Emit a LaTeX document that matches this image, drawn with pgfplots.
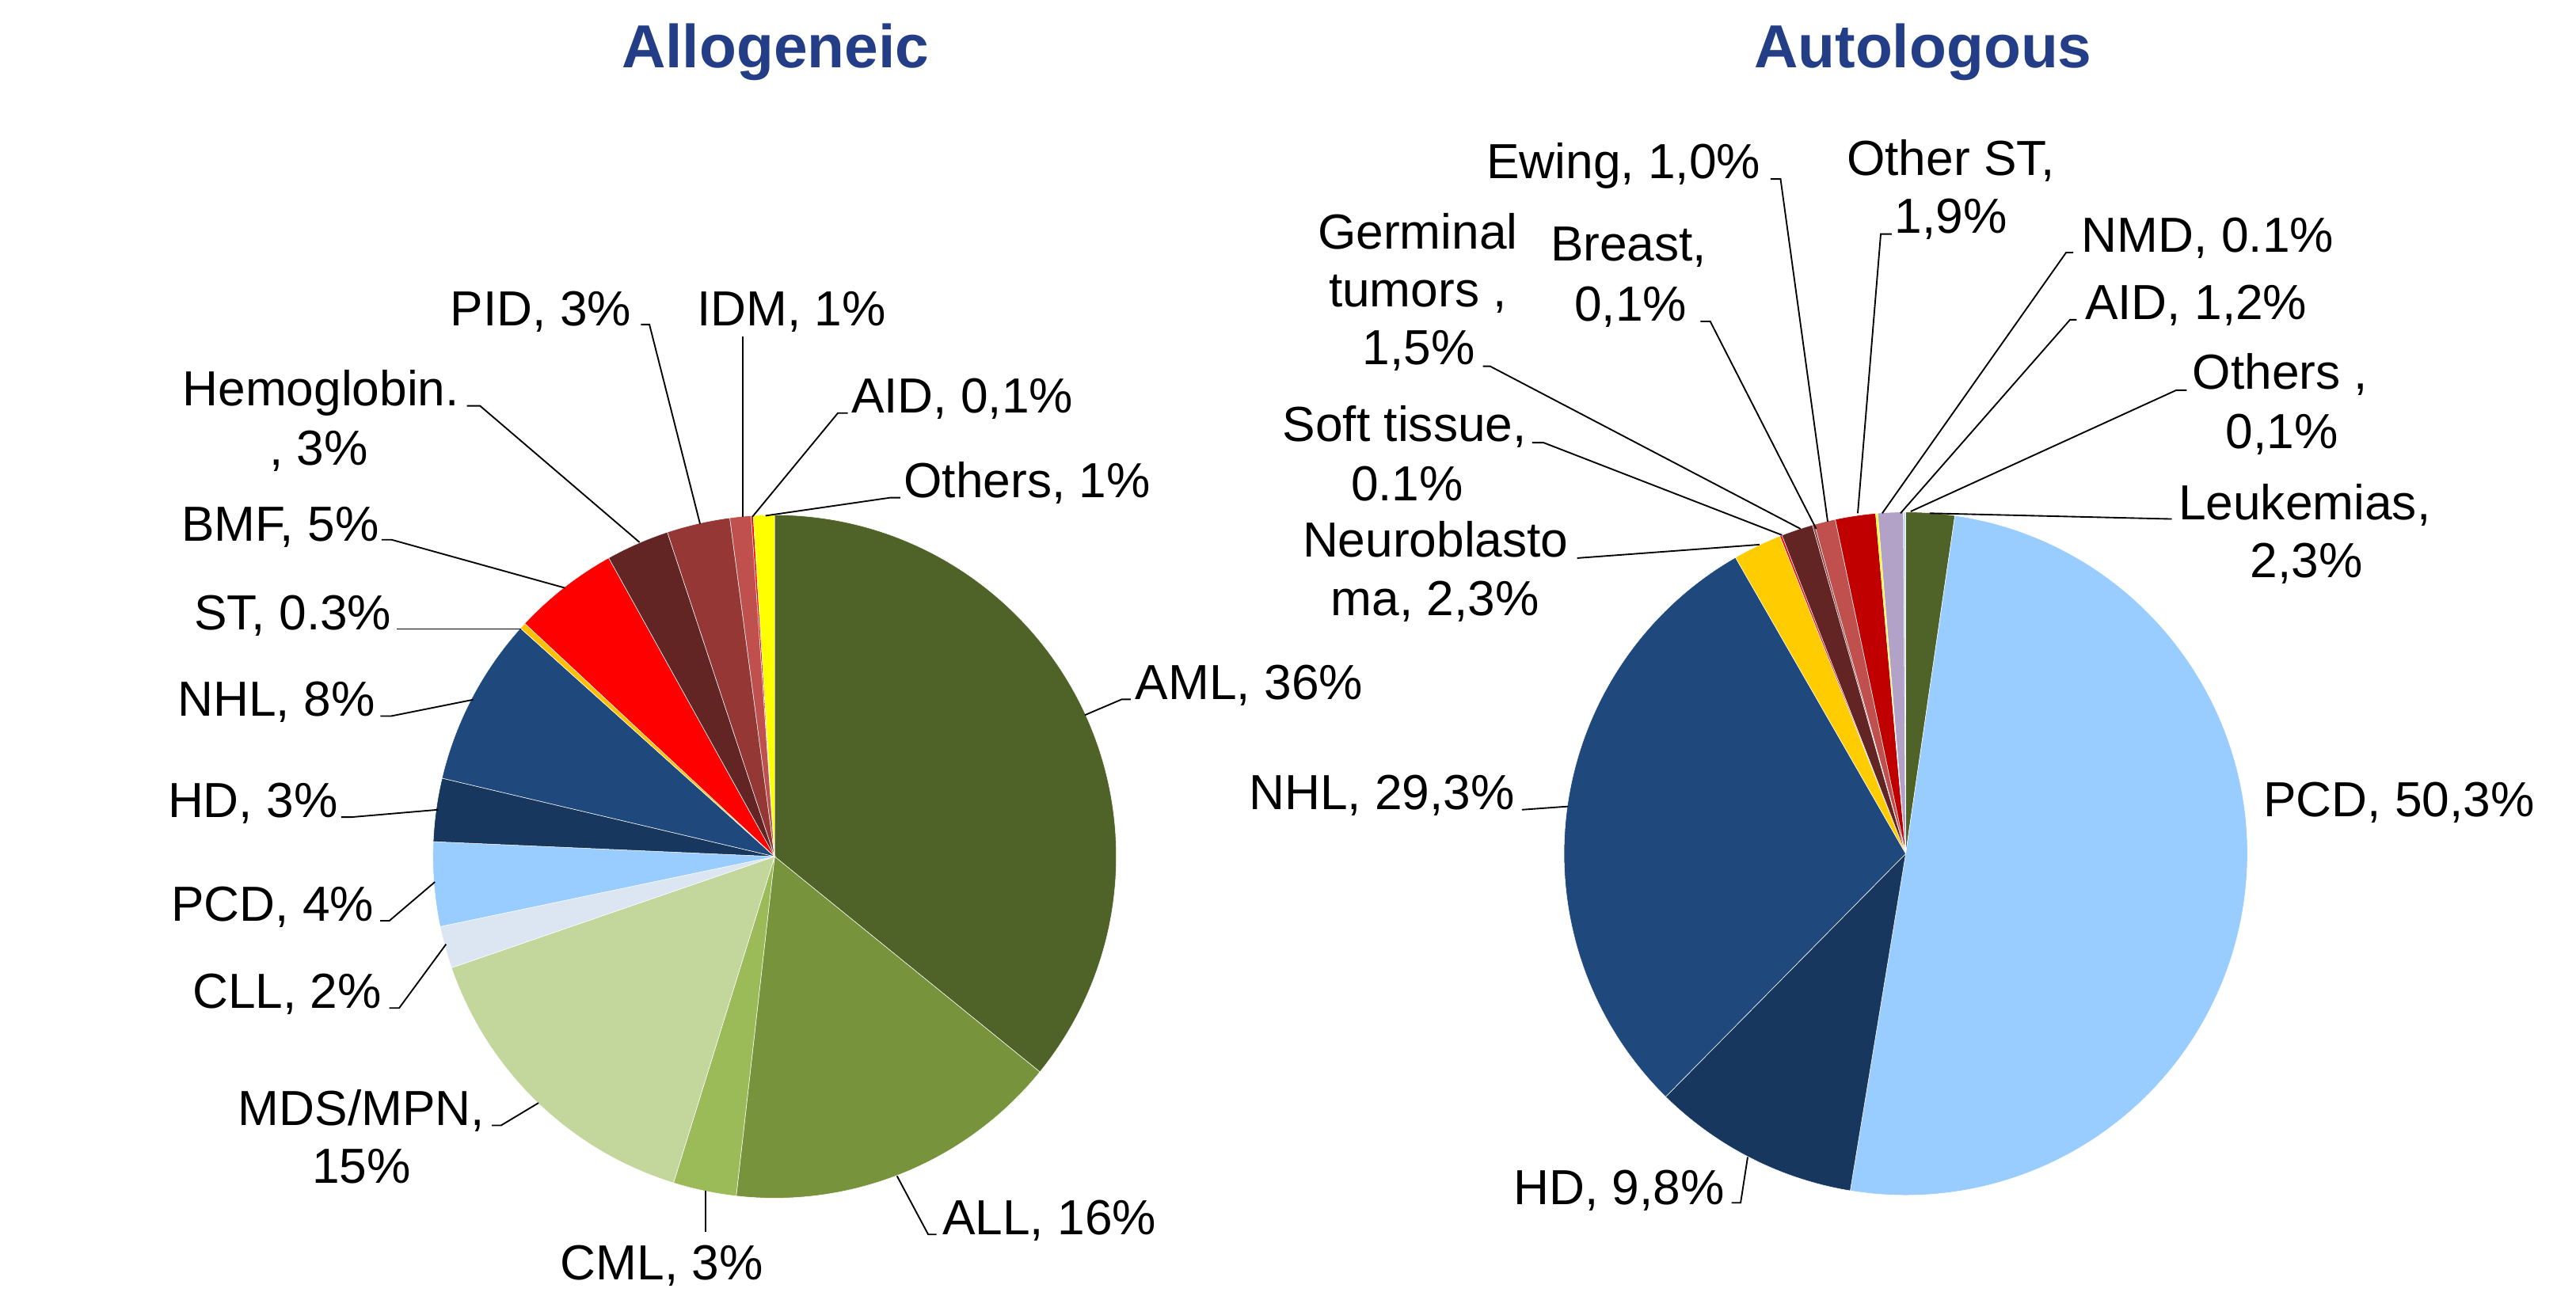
\documentclass[border=0pt]{standalone}
\usepackage{fontspec}
\setmainfont{Liberation Sans}
\usepackage{pgfplots}
\usepackage{pgfplotstable}
\pgfplotsset{compat=1.18}

% slice colours
\definecolor{cAML}{HTML}{4F6228}
\definecolor{cALL}{HTML}{77933C}
\definecolor{cCML}{HTML}{9BBB59}
\definecolor{cMDS}{HTML}{C3D69B}
\definecolor{cCLL}{HTML}{DCE6F2}
\definecolor{cPCD}{HTML}{99CCFF}
\definecolor{cHD}{HTML}{17375E}
\definecolor{cNHL}{HTML}{1F497D}
\definecolor{cST}{HTML}{FFC000}
\definecolor{cBMF}{HTML}{FF0000}
\definecolor{cHemo}{HTML}{632523}
\definecolor{cPID}{HTML}{953735}
\definecolor{cIDM}{HTML}{C0504D}
\definecolor{cOth}{HTML}{FFFF00}
\definecolor{cOST}{HTML}{C00000}
\definecolor{cLav}{HTML}{B3A2C7}
\definecolor{cNeuro}{HTML}{FFCC00}
\definecolor{cLtb}{HTML}{C6D9F1}
\definecolor{titleblue}{RGB}{35,62,135}

% Allogeneic, clockwise from 12 o'clock
\pgfplotstableread{
name value color
AML 36 cAML
ALL 16 cALL
CML 3 cCML
MDS 15 cMDS
CLL 2 cCLL
PCD 4 cPCD
HD 3 cHD
NHL 8 cNHL
ST 0.3 cST
BMF 5 cBMF
Hemo 3 cHemo
PID 3 cPID
IDM 1 cIDM
AID 0.1 cBMF
Others 1 cOth
}\allo

% Autologous, clockwise from 12 o'clock
\pgfplotstableread{
name value color
Leukemias 2.3 cAML
PCD 50.3 cPCD
HD 9.8 cHD
NHL 29.3 cNHL
Neuro 2.3 cNeuro
Soft 0.1 cBMF
Germinal 1.5 cHemo
Breast 0.1 cPID
Ewing 1.0 cIDM
OtherST 1.9 cOST
NMD 0.1 cOth
AID 1.2 cLav
Others 0.1 cLtb
}\auto

% #1 table, #2 #3 centre (axis units), #4 sum of the values
\newcommand\piechart[4]{%
  \pgfplotstablegetrowsof{#1}%
  \pgfmathtruncatemacro\lastrow{\pgfplotsretval-1}%
  \gdef\pieang{90}%
  \foreach \r in {0,...,\lastrow}{%
    \pgfplotstablegetelem{\r}{value}\of{#1}%
    \pgfmathsetmacro\sweep{\pgfplotsretval/#4*360}%
    \pgfplotstablegetelem{\r}{color}\of{#1}%
    \let\slicecol\pgfplotsretval
    \pgfmathsetmacro\endang{\pieang-\sweep}%
    \fill[fill=\slicecol, draw=white, line width=0.25pt]
      (axis cs:#2,#3) -- ++(\pieang:208pt)
      arc[start angle=\pieang, end angle=\endang, radius=208pt] -- cycle;
    \global\let\pieang\endang
  }%
}

\tikzset{
  lbl/.style={inner sep=0pt, font=\fontsize{30}{35}\selectfont},
  leader/.style={black, line width=0.9pt},
  ttl/.style={inner sep=0pt, anchor=base, text=titleblue,
    font=\fontsize{37}{40}\selectfont\bfseries},
}

\begin{document}
\begin{tikzpicture}
\begin{axis}[
    hide axis,
    scale only axis,
    width=1568pt, height=789pt,
    xmin=0, xmax=1568, ymin=0, ymax=789,
    clip=false,
]
\pgfplotsextra{\piechart{\allo}{471.5}{267.5}{100.4}}
\pgfplotsextra{\piechart{\auto}{1160}{269.25}{100}}

\node[ttl] at (axis cs:472,748) {Allogeneic};
\node[ttl] at (axis cs:1170.5,748) {Autologous};

% ---- Allogeneic labels
\node[lbl, anchor=base west] at (axis cs:691,363.2) {AML, 36\%};
\draw[leader] (axis cs:660.3,353.6) -- (axis cs:682.8,363.2) -- (axis cs:688.3,363.2);
\node[lbl, anchor=base west] at (axis cs:573.5,37.4) {ALL, 16\%};
\draw[leader] (axis cs:546,73) -- (axis cs:565,37.4) -- (axis cs:570,37.4);
\node[lbl, anchor=base west] at (axis cs:341,9.8) {CML, 3\%};
\draw[leader] (axis cs:429.6,64) -- (axis cs:429.6,39);
\node[lbl, anchor=base] at (axis cs:220,103.8) {MDS/MPN,};
\node[lbl, anchor=base] at (axis cs:220,68.4) {15\%};
\draw[leader] (axis cs:327.8,117.5) -- (axis cs:305,103.8) -- (axis cs:299.4,103.8);
\node[lbl, anchor=base west] at (axis cs:117,175.3) {CLL, 2\%};
\draw[leader] (axis cs:271.5,214.1) -- (axis cs:243,175.3) -- (axis cs:237,175.3);
\node[lbl, anchor=base west] at (axis cs:104,228.4) {PCD, 4\%};
\draw[leader] (axis cs:264.7,252) -- (axis cs:237,228.4) -- (axis cs:231.4,228.4);
\node[lbl, anchor=base west] at (axis cs:102,291.5) {HD, 3\%};
\draw[leader] (axis cs:266.6,296) -- (axis cs:214,291.5) -- (axis cs:207.7,291.5);
\node[lbl, anchor=base west] at (axis cs:108,353) {NHL, 8\%};
\draw[leader] (axis cs:288,363) -- (axis cs:238,353) -- (axis cs:231.5,353);
\node[lbl, anchor=base west] at (axis cs:118,405.5) {ST, 0.3\%};
\draw[leader] (axis cs:317,406) -- (axis cs:241.6,406);
\node[lbl, anchor=base west] at (axis cs:110.4,459.6) {BMF, 5\%};
\draw[leader] (axis cs:344,431) -- (axis cs:238.3,460.4) -- (axis cs:232.3,460.4);
\node[lbl, anchor=base] at (axis cs:195.3,542) {Hemoglobin.};
\node[lbl, anchor=base] at (axis cs:194,506) {, 3\%};
\draw[leader] (axis cs:389.3,458.8) -- (axis cs:292.2,541.9) -- (axis cs:284.2,541.9);
\node[lbl, anchor=base west] at (axis cs:274,590.6) {PID, 3\%};
\draw[leader] (axis cs:426.1,470.1) -- (axis cs:395.3,591.4) -- (axis cs:390.1,591.4);
\node[lbl, anchor=base west] at (axis cs:424,590.6) {IDM, 1\%};
\draw[leader] (axis cs:452,474) -- (axis cs:452,584);
\node[lbl, anchor=base west] at (axis cs:518,537.6) {AID, 0,1\%};
\draw[leader] (axis cs:458,474.4) -- (axis cs:510,537.5) -- (axis cs:516,537.5);
\node[lbl, anchor=base west] at (axis cs:550,486.2) {Others, 1\%};
\draw[leader] (axis cs:466,475) -- (axis cs:542,486) -- (axis cs:548,486);

% ---- Autologous labels
\node[lbl, anchor=base] at (axis cs:1402.8,472.7) {Leukemias,};
\node[lbl, anchor=base] at (axis cs:1404,437.4) {2,3\%};
\draw[leader] (axis cs:1174.6,476.5) -- (axis cs:1322,473);
\node[lbl, anchor=base west] at (axis cs:1377.6,291.7) {PCD, 50,3\%};
\node[lbl, anchor=base west] at (axis cs:921,55.8) {HD, 9,8\%};
\draw[leader] (axis cs:1063.8,84.5) -- (axis cs:1059.5,56.7) -- (axis cs:1054,56.7);
\node[lbl, anchor=base west] at (axis cs:760,296) {NHL, 29,3\%};
\draw[leader] (axis cs:926.4,296) -- (axis cs:954.4,298);
\node[lbl, anchor=base] at (axis cs:873.8,449.8) {Neuroblasto};
\node[lbl, anchor=base] at (axis cs:873.5,414.4) {ma, 2,3\%};
\draw[leader] (axis cs:960,449.2) -- (axis cs:1071,457.4);
\node[lbl, anchor=base] at (axis cs:855,520.3) {Soft tissue,};
\node[lbl, anchor=base] at (axis cs:856.5,484.1) {0.1\%};
\draw[leader] (axis cs:1084.7,463.2) -- (axis cs:939.5,519.5) -- (axis cs:932.6,519.5);
\node[lbl, anchor=base] at (axis cs:863,637.6) {Germinal};
\node[lbl, anchor=base] at (axis cs:863,602.3) {tumors ,};
\node[lbl, anchor=base] at (axis cs:863.5,567) {1,5\%};
\draw[leader] (axis cs:1096,467) -- (axis cs:907,566) -- (axis cs:902.6,566);
\node[lbl, anchor=base] at (axis cs:991.3,630) {Breast,};
\node[lbl, anchor=base] at (axis cs:992.5,593.7) {0,1\%};
\draw[leader] (axis cs:1105.5,467) -- (axis cs:1041,593.3) -- (axis cs:1035,593.3);
\node[lbl, anchor=base west] at (axis cs:904.7,680.5) {Ewing, 1,0\%};
\draw[leader] (axis cs:1112.5,471.4) -- (axis cs:1083.8,680) -- (axis cs:1077.7,680);
\node[lbl, anchor=base] at (axis cs:1187.5,682.4) {Other ST,};
\node[lbl, anchor=base] at (axis cs:1187.5,647.1) {1,9\%};
\draw[leader] (axis cs:1130.8,476.5) -- (axis cs:1144.8,646.5) -- (axis cs:1151.5,646.5);
\node[lbl, anchor=base west] at (axis cs:1267,635.7) {NMD, 0.1\%};
\draw[leader] (axis cs:1145.7,476.5) -- (axis cs:1257.6,635.2) -- (axis cs:1262,635.2);
\node[lbl, anchor=base west] at (axis cs:1269,594.6) {AID, 1,2\%};
\draw[leader] (axis cs:1156.8,476.5) -- (axis cs:1260,594.3) -- (axis cs:1264,594.3);
\node[lbl, anchor=base] at (axis cs:1387.9,552) {Others ,};
\node[lbl, anchor=base] at (axis cs:1389,515.7) {0,1\%};
\draw[leader] (axis cs:1163,477.6) -- (axis cs:1324.6,551.4) -- (axis cs:1331,551.4);
\end{axis}
\pgfresetboundingbox
\path (current axis.south west) rectangle (current axis.north east);
\end{tikzpicture}
\end{document}
